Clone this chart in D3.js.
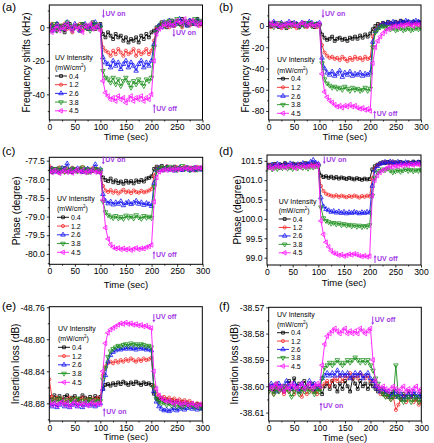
<!DOCTYPE html>
<html>
<head>
<meta charset="utf-8">
<script src="https://cdn.jsdelivr.net/npm/d3@7"></script>
<style>
body { margin: 0; background: #fff; }
text { font-family: "Liberation Sans", Arial, sans-serif; }
</style>
</head>
<body>
<div class="chart"></div>
<script>
// Time axis (sec) and UV intensities
var time = [0,5,10,15,20,25,30,35,40,45,50,55,60,65,70,75,80,85,90,95,100,
  105,110,115,120,125,130,135,140,145,150,155,160,165,170,175,180,185,190,195,200,
  205,210,215,220,225,230,235,240,245,250,255,260,265,270,275,280,285,290,295,300];
var intensity = ["0.4", "1.2", "2.6", "3.8", "4.5"];
var colors = ["#000000", "#f52a2a", "#1414f0", "#1d8f1d", "#ff14ff"];

// (a) frequency shifts, kHz
var freqA04 = [1,-2,0,2,-1,1,-3,0,2,-1,0,1,-2,2,0,-1,1,3,-1,0,2,
  -4,-6,-3,-5,-7,-4,-6,-5,-8,-6,-9,-7,-8,-6,-9,-5,-7,-4,-6,-3,
  -2,0,1,3,2,0,2,4,1,3,2,5,3,1,4,2,3,5,2,3];
var freqA12 = [-1,2,0,-2,1,0,2,-1,0,-3,1,0,2,-2,1,0,-1,2,0,1,-1,
  -12,-14,-15,-17,-14,-16,-13,-15,-17,-14,-16,-15,-13,-17,-14,-16,-15,-13,-16,-14,
  -8,-1,0,2,1,3,0,2,1,4,2,0,3,2,1,4,2,3,1,2];
var freqA26 = [0,1,-2,2,0,-1,1,3,0,-1,2,0,-2,1,2,0,-1,1,3,0,1,
  -18,-21,-22,-24,-20,-23,-21,-25,-22,-20,-24,-21,-23,-26,-22,-20,-24,-21,-23,-20,
  -10,-2,1,0,3,2,4,1,3,2,5,2,3,1,4,3,2,4,3,2];
var freqA38 = [-1,0,2,-2,1,-1,0,3,1,-2,0,1,-1,2,0,1,-2,0,2,1,0,
  -26,-30,-31,-33,-30,-34,-31,-35,-32,-30,-33,-36,-32,-34,-31,-33,-35,-31,-32,-30,
  -12,-3,0,2,1,3,4,2,3,5,2,1,4,3,2,3,5,2,4,3];
var freqA45 = [0,-3,-1,1,-2,0,-1,2,0,-2,1,-1,0,-3,1,0,2,-1,0,1,-2,
  -32,-39,-41,-43,-42,-44,-41,-43,-42,-45,-43,-41,-44,-42,-43,-41,-44,-42,-43,-40,
  -20,-4,-1,0,2,1,3,1,2,4,3,2,5,3,2,4,3,1,3,2];

// (b) frequency shifts, kHz
var freqB04 = [2,0,3,1,-1,2,0,-2,1,3,0,2,-1,1,3,0,2,1,-1,2,1,
  -8,-11,-13,-12,-10,-14,-12,-11,-13,-12,-14,-11,-12,-10,-12,-9,-11,-8,-10,-7,
  -3,0,2,1,3,2,4,3,2,4,3,5,4,3,4,2,4,3,4,3];
var freqB12 = [1,-1,2,0,1,-2,0,2,-1,1,0,-2,1,2,0,-1,2,0,1,-1,1,
  -18,-25,-28,-30,-29,-31,-30,-32,-29,-31,-33,-30,-32,-29,-31,-30,-32,-29,-31,-30,
  -10,-4,-1,1,2,0,2,3,1,2,3,1,2,3,1,2,3,2,1,2];
var freqB26 = [3,1,4,2,0,3,1,2,4,1,3,2,0,3,1,2,4,3,1,2,3,
  -30,-40,-44,-46,-43,-47,-45,-42,-48,-44,-46,-43,-47,-45,-46,-44,-47,-45,-46,-44,
  -15,-5,-2,0,2,1,3,2,4,3,2,4,3,5,4,3,4,5,4,3];
var freqB38 = [0,2,-1,1,3,0,2,-1,1,0,2,1,-1,2,0,1,3,0,2,1,0,
  -35,-50,-54,-56,-58,-57,-59,-58,-60,-57,-59,-61,-58,-60,-59,-61,-60,-58,-61,-59,
  -20,-6,-3,-1,0,-2,-1,-3,-2,-4,-3,-2,-4,-3,-2,-4,-3,-2,-3,-2];
var freqB45 = [1,3,0,2,1,-1,2,0,3,1,2,0,1,3,2,0,1,2,0,1,2,
  -45,-62,-67,-70,-72,-74,-76,-75,-77,-75,-76,-74,-76,-75,-77,-78,-77,-79,-78,-80,
  -35,-20,-14,-10,-7,-5,-3,-2,-1,0,-1,1,0,1,2,1,0,2,1,2];

// (c) phase, degree
var phaseC04 = [-77.74,-77.80,-77.72,-77.78,-77.82,-77.76,-77.70,-77.79,-77.75,-77.81,-77.73,-77.77,-77.71,-77.80,-77.76,-77.82,-77.74,-77.78,-77.72,-77.80,-77.82,
  -77.95,-78.02,-78.05,-77.98,-78.08,-78.03,-78.10,-78.06,-78.12,-78.04,-78.09,-78.05,-78.11,-78.03,-78.07,-78.02,-78.06,-77.98,-77.96,-77.92,
  -77.72,-77.66,-77.70,-77.64,-77.72,-77.68,-77.74,-77.70,-77.66,-77.73,-77.69,-77.75,-77.71,-77.68,-77.74,-77.70,-77.76,-77.72,-77.69,-77.73];
var phaseC12 = [-77.64,-77.70,-77.78,-77.72,-77.68,-77.75,-77.80,-77.71,-77.77,-77.69,-77.74,-77.79,-77.73,-77.67,-77.76,-77.72,-77.78,-77.70,-77.75,-77.73,-77.79,
  -78.18,-78.30,-78.34,-78.29,-78.36,-78.31,-78.38,-78.33,-78.28,-78.35,-78.32,-78.37,-78.30,-78.34,-78.36,-78.31,-78.35,-78.33,-78.30,-78.26,
  -77.90,-77.72,-77.68,-77.74,-77.70,-77.65,-77.72,-77.69,-77.75,-77.68,-77.73,-77.70,-77.66,-77.72,-77.69,-77.74,-77.70,-77.67,-77.73,-77.70];
var phaseC26 = [-77.76,-77.72,-77.80,-77.74,-77.78,-77.70,-77.75,-77.58,-77.79,-77.73,-77.77,-77.71,-77.76,-77.80,-77.74,-77.72,-77.78,-77.75,-77.60,-77.77,-77.73,
  -78.40,-78.58,-78.65,-78.60,-78.68,-78.62,-78.66,-78.59,-78.70,-78.64,-78.61,-78.67,-78.63,-78.58,-78.66,-78.62,-78.69,-78.64,-78.67,-78.72,
  -78.10,-77.75,-77.70,-77.76,-77.72,-77.68,-77.74,-77.71,-77.77,-77.73,-77.69,-77.75,-77.72,-77.70,-77.76,-77.73,-77.69,-77.74,-77.71,-77.75];
var phaseC38 = [-77.74,-77.79,-77.72,-77.77,-77.70,-77.76,-77.80,-77.73,-77.78,-77.71,-77.75,-77.79,-77.74,-77.68,-77.77,-77.73,-77.80,-77.75,-77.72,-77.78,-77.74,
  -78.60,-78.88,-78.96,-79.00,-79.04,-78.98,-79.05,-79.01,-79.06,-78.97,-79.03,-78.99,-79.05,-78.96,-79.02,-79.06,-78.98,-79.03,-79.00,-79.04,
  -78.20,-77.78,-77.72,-77.68,-77.74,-77.70,-77.66,-77.72,-77.69,-77.75,-77.70,-77.64,-77.73,-77.70,-77.76,-77.71,-77.68,-77.74,-77.70,-77.72];
var phaseC45 = [-77.78,-77.82,-77.76,-77.80,-77.84,-77.79,-77.75,-77.81,-77.77,-77.83,-77.78,-77.74,-77.80,-77.76,-77.82,-77.78,-77.80,-77.75,-77.81,-77.79,-77.83,
  -78.55,-79.30,-79.60,-79.75,-79.82,-79.86,-79.84,-79.88,-79.85,-79.89,-79.86,-79.90,-79.87,-79.84,-79.88,-79.85,-79.86,-79.82,-79.80,-79.76,
  -78.60,-77.95,-77.80,-77.76,-77.74,-77.76,-77.72,-77.75,-77.70,-77.74,-77.71,-77.73,-77.69,-77.72,-77.70,-77.74,-77.68,-77.71,-77.69,-77.72];

// (d) phase, degree
var phaseD04 = [101.36,101.40,101.38,101.42,101.37,101.41,101.39,101.44,101.40,101.38,101.43,101.41,101.39,101.42,101.40,101.44,101.41,101.39,101.43,101.41,101.40,
  101.12,101.08,101.10,101.06,101.09,101.05,101.08,101.04,101.07,101.05,101.03,101.06,101.04,101.02,101.05,101.03,101.01,101.04,101.02,101.03,
  101.28,101.36,101.40,101.43,101.46,101.44,101.47,101.45,101.43,101.46,101.44,101.47,101.45,101.43,101.46,101.44,101.48,101.45,101.47,101.46];
var phaseD12 = [101.34,101.38,101.36,101.40,101.35,101.39,101.37,101.41,101.38,101.36,101.40,101.37,101.39,101.42,101.38,101.40,101.37,101.41,101.39,101.42,101.40,
  100.85,100.72,100.65,100.62,100.60,100.58,100.61,100.57,100.60,100.58,100.56,100.59,100.57,100.60,100.58,100.55,100.59,100.57,100.60,100.58,
  101.05,101.30,101.38,101.42,101.45,101.47,101.44,101.46,101.48,101.45,101.43,101.46,101.44,101.42,101.45,101.43,101.41,101.44,101.42,101.43];
var phaseD26 = [101.38,101.35,101.40,101.37,101.42,101.39,101.36,101.41,101.38,101.43,101.40,101.37,101.41,101.39,101.44,101.40,101.42,101.47,101.52,101.45,101.42,
  100.55,100.32,100.25,100.22,100.18,100.20,100.16,100.19,100.15,100.18,100.14,100.17,100.15,100.18,100.16,100.14,100.17,100.15,100.18,100.16,
  100.85,101.25,101.36,101.42,101.44,101.47,101.45,101.48,101.46,101.44,101.47,101.45,101.43,101.46,101.44,101.42,101.45,101.43,101.46,101.44];
var phaseD38 = [101.30,101.34,101.28,101.32,101.29,101.33,101.31,101.35,101.30,101.33,101.29,101.34,101.31,101.36,101.32,101.34,101.30,101.35,101.33,101.36,101.34,
  100.30,100.02,99.95,99.92,99.88,99.90,99.86,99.89,99.84,99.87,99.83,99.85,99.81,99.84,99.80,99.83,99.79,99.82,99.80,99.84,
  100.60,101.05,101.20,101.24,101.28,101.26,101.30,101.25,101.20,101.23,101.26,101.22,101.25,101.28,101.24,101.27,101.23,101.26,101.24,101.27];
var phaseD45 = [101.32,101.35,101.30,101.34,101.37,101.33,101.36,101.32,101.35,101.38,101.34,101.31,101.36,101.33,101.37,101.34,101.36,101.38,101.35,101.37,101.39,
  99.95,99.60,99.40,99.28,99.18,99.12,99.10,99.06,99.08,99.04,99.06,99.09,99.07,99.10,99.08,99.05,99.03,99.05,99.02,99.04,
  100.60,101.00,101.12,101.20,101.25,101.29,101.32,101.35,101.34,101.37,101.36,101.39,101.37,101.40,101.38,101.41,101.39,101.42,101.40,101.41];

// (e) insertion loss, dB
var lossE04 = [-48.872,-48.875,-48.870,-48.874,-48.871,-48.876,-48.872,-48.870,-48.875,-48.873,-48.871,-48.876,-48.874,-48.870,-48.873,-48.875,-48.872,-48.876,-48.871,-48.874,-48.872,
  -48.862,-48.857,-48.856,-48.858,-48.855,-48.857,-48.854,-48.856,-48.853,-48.855,-48.857,-48.854,-48.856,-48.853,-48.855,-48.857,-48.854,-48.856,-48.855,-48.857,
  -48.868,-48.874,-48.876,-48.873,-48.877,-48.875,-48.878,-48.876,-48.879,-48.877,-48.880,-48.878,-48.881,-48.879,-48.882,-48.880,-48.883,-48.881,-48.882,-48.884];
var lossE12 = [-48.850,-48.872,-48.876,-48.873,-48.877,-48.874,-48.878,-48.875,-48.873,-48.877,-48.874,-48.878,-48.876,-48.873,-48.877,-48.875,-48.878,-48.874,-48.876,-48.873,-48.877,
  -48.845,-48.834,-48.830,-48.828,-48.830,-48.827,-48.829,-48.826,-48.828,-48.825,-48.827,-48.824,-48.826,-48.828,-48.825,-48.827,-48.824,-48.826,-48.825,-48.823,
  -48.858,-48.868,-48.871,-48.874,-48.872,-48.875,-48.873,-48.876,-48.874,-48.877,-48.875,-48.878,-48.876,-48.879,-48.877,-48.880,-48.882,-48.880,-48.883,-48.881];
var lossE26 = [-48.880,-48.884,-48.881,-48.885,-48.882,-48.879,-48.884,-48.881,-48.885,-48.882,-48.880,-48.884,-48.881,-48.885,-48.882,-48.880,-48.883,-48.881,-48.884,-48.882,-48.880,
  -48.862,-48.845,-48.828,-48.820,-48.816,-48.814,-48.812,-48.813,-48.811,-48.812,-48.810,-48.812,-48.811,-48.813,-48.810,-48.812,-48.811,-48.813,-48.812,-48.814,
  -48.865,-48.878,-48.884,-48.887,-48.889,-48.888,-48.890,-48.888,-48.886,-48.889,-48.887,-48.885,-48.888,-48.886,-48.884,-48.887,-48.885,-48.888,-48.886,-48.887];
var lossE38 = [-48.876,-48.879,-48.875,-48.878,-48.874,-48.877,-48.880,-48.876,-48.879,-48.875,-48.878,-48.874,-48.877,-48.879,-48.876,-48.878,-48.875,-48.879,-48.876,-48.878,-48.877,
  -48.850,-48.836,-48.822,-48.815,-48.812,-48.810,-48.808,-48.809,-48.807,-48.806,-48.808,-48.805,-48.807,-48.806,-48.808,-48.806,-48.807,-48.809,-48.808,-48.810,
  -48.860,-48.874,-48.878,-48.880,-48.879,-48.882,-48.880,-48.883,-48.881,-48.884,-48.882,-48.885,-48.883,-48.881,-48.884,-48.882,-48.885,-48.883,-48.886,-48.884];
var lossE45 = [-48.878,-48.882,-48.879,-48.883,-48.880,-48.878,-48.882,-48.879,-48.884,-48.881,-48.878,-48.883,-48.880,-48.882,-48.879,-48.883,-48.881,-48.878,-48.882,-48.880,-48.881,
  -48.840,-48.805,-48.792,-48.788,-48.786,-48.784,-48.782,-48.780,-48.781,-48.779,-48.781,-48.780,-48.782,-48.781,-48.783,-48.782,-48.784,-48.783,-48.785,-48.786,
  -48.840,-48.862,-48.870,-48.874,-48.876,-48.878,-48.877,-48.879,-48.881,-48.878,-48.880,-48.882,-48.879,-48.881,-48.883,-48.880,-48.882,-48.884,-48.881,-48.883];

// (f) insertion loss, dB
var lossF04 = [-38.601,-38.600,-38.602,-38.599,-38.601,-38.600,-38.602,-38.600,-38.598,-38.601,-38.597,-38.600,-38.599,-38.601,-38.598,-38.600,-38.601,-38.599,-38.602,-38.600,-38.601,
  -38.603,-38.600,-38.599,-38.601,-38.598,-38.600,-38.602,-38.599,-38.601,-38.598,-38.600,-38.602,-38.597,-38.599,-38.601,-38.598,-38.600,-38.599,-38.601,-38.599,
  -38.600,-38.601,-38.602,-38.601,-38.603,-38.602,-38.604,-38.603,-38.602,-38.604,-38.603,-38.605,-38.603,-38.604,-38.602,-38.604,-38.603,-38.605,-38.604,-38.603];
var lossF12 = [-38.602,-38.601,-38.603,-38.600,-38.602,-38.601,-38.603,-38.601,-38.602,-38.600,-38.603,-38.601,-38.602,-38.604,-38.601,-38.603,-38.601,-38.602,-38.600,-38.603,-38.601,
  -38.600,-38.599,-38.598,-38.600,-38.598,-38.597,-38.598,-38.596,-38.598,-38.596,-38.597,-38.595,-38.597,-38.596,-38.597,-38.595,-38.596,-38.597,-38.596,-38.598,
  -38.598,-38.600,-38.601,-38.603,-38.602,-38.604,-38.603,-38.605,-38.604,-38.609,-38.607,-38.605,-38.604,-38.606,-38.605,-38.604,-38.606,-38.605,-38.607,-38.606];
var lossF26 = [-38.601,-38.599,-38.600,-38.602,-38.599,-38.601,-38.600,-38.598,-38.600,-38.601,-38.599,-38.600,-38.602,-38.599,-38.601,-38.600,-38.598,-38.600,-38.599,-38.601,-38.600,
  -38.597,-38.596,-38.595,-38.596,-38.595,-38.596,-38.594,-38.596,-38.595,-38.596,-38.595,-38.597,-38.596,-38.595,-38.596,-38.595,-38.597,-38.596,-38.595,-38.597,
  -38.598,-38.600,-38.601,-38.602,-38.601,-38.603,-38.602,-38.604,-38.603,-38.602,-38.604,-38.603,-38.605,-38.604,-38.603,-38.604,-38.602,-38.604,-38.603,-38.605];
var lossF38 = [-38.602,-38.601,-38.603,-38.601,-38.602,-38.601,-38.600,-38.601,-38.602,-38.604,-38.602,-38.601,-38.603,-38.601,-38.602,-38.600,-38.602,-38.601,-38.603,-38.601,-38.602,
  -38.597,-38.593,-38.592,-38.591,-38.592,-38.591,-38.590,-38.591,-38.592,-38.591,-38.590,-38.591,-38.590,-38.589,-38.590,-38.591,-38.590,-38.591,-38.590,-38.592,
  -38.594,-38.597,-38.599,-38.601,-38.603,-38.604,-38.603,-38.605,-38.604,-38.592,-38.604,-38.605,-38.606,-38.605,-38.604,-38.606,-38.605,-38.604,-38.606,-38.605];
var lossF45 = [-38.600,-38.601,-38.600,-38.599,-38.601,-38.600,-38.602,-38.600,-38.601,-38.599,-38.600,-38.601,-38.600,-38.599,-38.601,-38.600,-38.599,-38.601,-38.600,-38.599,-38.600,
  -38.592,-38.584,-38.581,-38.580,-38.579,-38.578,-38.579,-38.580,-38.579,-38.578,-38.580,-38.579,-38.580,-38.579,-38.580,-38.578,-38.579,-38.580,-38.579,-38.578,
  -38.590,-38.598,-38.600,-38.601,-38.600,-38.601,-38.602,-38.601,-38.600,-38.601,-38.602,-38.601,-38.600,-38.602,-38.601,-38.602,-38.601,-38.600,-38.602,-38.601];

var xTicks = [0, 50, 100, 150, 200, 250, 300];
var xMinor = [25, 75, 125, 175, 225, 275];

// Panel layout
var panels = [
  { label: "(a)", left: 49.3, right: 202.5, top: 5, bottom: 120, yDomain: [-55.3, 13.3],
    yTicks: [0, -20, -40], yMinor: [10, -10, -30, -50], fmt: d3.format("d"),
    yTitle: "Frequency shifts (kHz)", yTitleX: 26, xTitleY: 136.5, labelX: 2, labelY: 11,
    series: [freqA04, freqA12, freqA26, freqA38, freqA45],
    legend: { x: 55, title: 57.3, unit: 67.3, row: 76, step: 8.7 },
    notes: [{ t: 106, y0: 9.5, y1: 18, ty: 15.5, text: "UV on" },
            { t: 244, y0: 29, y1: 37, ty: 35, text: "UV on" },
            { t: 205.6, y0: 113, y1: 104, ty: 110.5, text: "UV off" }] },
  { label: "(b)", left: 268.7, right: 421, top: 5, bottom: 120, yDomain: [-88.5, 19.8],
    yTicks: [0, -20, -40, -60, -80], yMinor: [10, -10, -30, -50, -70], fmt: d3.format("d"),
    yTitle: "Frequency shifts (kHz)", yTitleX: 245, xTitleY: 137, labelX: 219, labelY: 11,
    series: [freqB04, freqB12, freqB26, freqB38, freqB45],
    legend: { x: 277, title: 59.3, unit: 70.3, row: 78.7, step: 8.65 },
    notes: [{ t: 107, y0: 9.5, y1: 18, ty: 15.5, text: "UV on" },
            { t: 208.8, y0: 118.5, y1: 110.5, ty: 116, text: "UV off" }] },
  { label: "(c)", left: 49.3, right: 202.7, top: 157.3, bottom: 264.3, yDomain: [-80.28, -77.41],
    yTicks: [-77.5, -78.0, -78.5, -79.0, -79.5, -80.0], yMinor: [-77.75, -78.25, -78.75, -79.25, -79.75, -80.25], fmt: d3.format(".1f"),
    yTitle: "Phase (degree)", yTitleX: 16, xTitleY: 285, labelX: 2, labelY: 155,
    series: [phaseC04, phaseC12, phaseC26, phaseC38, phaseC45],
    legend: { x: 57, title: 198.3, unit: 208.3, row: 217.3, step: 8.75 },
    notes: [{ t: 105.6, y0: 156.5, y1: 164.5, ty: 162, text: "UV on" },
            { t: 204.7, y0: 259, y1: 251, ty: 256.5, text: "UV off" }] },
  { label: "(d)", left: 267, right: 421, top: 155, bottom: 265, yDomain: [98.81, 101.65],
    yTicks: [99.0, 99.5, 100.0, 100.5, 101.0, 101.5], yMinor: [99.25, 99.75, 100.25, 100.75, 101.25], fmt: d3.format(".1f"),
    yTitle: "Phase (degree)", yTitleX: 237, xTitleY: 283, labelX: 219, labelY: 155,
    series: [phaseD04, phaseD12, phaseD26, phaseD38, phaseD45],
    legend: { x: 278.7, title: 201, unit: 210.3, row: 219, step: 8.45 },
    notes: [{ t: 111.6, y0: 156.5, y1: 164, ty: 161.5, text: "UV on" },
            { t: 210.4, y0: 263, y1: 255, ty: 260.5, text: "UV off" }] },
  { label: "(e)", left: 49.3, right: 202.3, top: 306.7, bottom: 421, yDomain: [-48.9021, -48.7593],
    yTicks: [-48.76, -48.80, -48.84, -48.88], yMinor: [-48.78, -48.82, -48.86, -48.90], fmt: d3.format(".2f"),
    yTitle: "Insertion loss (dB)", yTitleX: 15, xTitleY: 437, labelX: 2, labelY: 309.5,
    series: [lossE04, lossE12, lossE26, lossE38, lossE45],
    legend: { x: 58, title: 328.3, unit: 338.3, row: 347.3, step: 8.75 },
    notes: [{ t: 107.7, y0: 416.5, y1: 408, ty: 414, text: "UV on" },
            { t: 205, y0: 314, y1: 322.5, ty: 319, text: "UV off" }] },
  { label: "(f)", left: 268.7, right: 421.3, top: 307.3, bottom: 421, yDomain: [-38.6132, -38.57],
    yTicks: [-38.57, -38.58, -38.59, -38.60, -38.61], yMinor: [-38.575, -38.585, -38.595, -38.605], fmt: d3.format(".2f"),
    yTitle: "Insertion loss (dB)", yTitleX: 234, xTitleY: 437.5, labelX: 219, labelY: 310,
    series: [lossF04, lossF12, lossF26, lossF38, lossF45],
    legend: { x: 277, title: 314.3, unit: 324, row: 332.7, step: 8.35 },
    notes: [{ t: 102.8, y0: 410.5, y1: 402.5, ty: 408, text: "UV on" },
            { t: 204.5, y0: 316.5, y1: 325, ty: 321.5, text: "UV off" }] }
];

var noteColor = "#a13ae6";
var font = "Liberation Sans, Arial, sans-serif";

// open markers: square, circle, up / down / left triangle
var markers = [
  { type: d3.symbolSquare, size: 8, rot: 0 },
  { type: d3.symbolCircle, size: 8, rot: 0 },
  { type: d3.symbolTriangle, size: 9, rot: 0 },
  { type: d3.symbolTriangle, size: 9, rot: 180 },
  { type: d3.symbolTriangle, size: 9, rot: -90 }
];

var svg = d3.select(".chart")
    .append("svg")
    .attr("width", 434)
    .attr("height", 443)
    .style("background", "#fff");

function minus(s) { return s.replace("\u2212", "-"); }

function styleAxis(g) {
    g.select(".domain").remove();
    g.selectAll("line").attr("stroke", "#000").attr("stroke-width", 0.8);
    g.selectAll("text").attr("font-family", font).attr("font-size", 8.6).attr("fill", "#000");
}

function drawMarker(g, m, cx, cy, color) {
    g.append("path")
        .attr("d", d3.symbol().type(m.type).size(m.size)())
        .attr("transform", `translate(${cx},${cy}) rotate(${m.rot})`)
        .attr("fill", "none")
        .attr("stroke", color)
        .attr("stroke-width", 0.8);
}

panels.forEach(function(p, pi) {
    var x = d3.scaleLinear().domain([0, 300]).range([p.left, p.right]);
    var y = d3.scaleLinear().domain(p.yDomain).range([p.bottom, p.top]);
    var g = svg.append("g");

    svg.append("clipPath").attr("id", "clip" + pi)
        .append("rect")
        .attr("x", p.left).attr("y", p.top)
        .attr("width", p.right - p.left).attr("height", p.bottom - p.top);

    // axes
    g.append("g").attr("transform", `translate(0,${p.bottom})`)
        .call(d3.axisBottom(x).tickValues(xTicks).tickSize(2.5).tickPadding(1))
        .call(styleAxis);
    g.append("g").attr("transform", `translate(0,${p.bottom})`)
        .call(d3.axisBottom(x).tickValues(xMinor).tickSize(1.5).tickFormat(""))
        .call(styleAxis);
    g.append("g").attr("transform", `translate(${p.left},0)`)
        .call(d3.axisLeft(y).tickValues(p.yTicks).tickSize(2.5).tickPadding(2)
            .tickFormat(function(d) { return minus(p.fmt(d)); }))
        .call(styleAxis);
    g.append("g").attr("transform", `translate(${p.left},0)`)
        .call(d3.axisLeft(y).tickValues(p.yMinor.filter(function(v) {
                return v >= p.yDomain[0] && v <= p.yDomain[1]; }))
            .tickSize(1.5).tickFormat(""))
        .call(styleAxis);

    // series
    var plot = g.append("g").attr("clip-path", "url(#clip" + pi + ")");
    var line = d3.line()
        .x(function(d, i) { return x(time[i]); })
        .y(function(d) { return y(d); });

    p.series.forEach(function(vals, si) {
        plot.append("path")
            .datum(vals)
            .attr("d", line)
            .attr("fill", "none")
            .attr("stroke", colors[si])
            .attr("stroke-width", 0.9);
        vals.forEach(function(v, i) {
            drawMarker(plot, markers[si], x(time[i]), y(v), colors[si]);
        });
    });

    // frame
    g.append("rect")
        .attr("x", p.left).attr("y", p.top)
        .attr("width", p.right - p.left).attr("height", p.bottom - p.top)
        .attr("fill", "none").attr("stroke", "#000").attr("stroke-width", 1);

    // titles
    g.append("text")
        .attr("x", (p.left + p.right) / 2).attr("y", p.xTitleY + 3.2)
        .attr("text-anchor", "middle").attr("font-size", 9.5)
        .text("Time (sec)");
    g.append("text")
        .attr("transform", `translate(${p.yTitleX + 3.5},${(p.top + p.bottom) / 2}) rotate(-90)`)
        .attr("text-anchor", "middle").attr("font-size", 10)
        .text(p.yTitle);
    g.append("text")
        .attr("x", p.labelX).attr("y", p.labelY)
        .attr("font-size", 11.5)
        .text(p.label);

    // legend
    var L = p.legend;
    g.append("text").attr("x", L.x).attr("y", L.title + 2.5)
        .attr("font-size", 7).text("UV Intensity");
    var u = g.append("text").attr("x", L.x).attr("y", L.unit + 2.5).attr("font-size", 7);
    u.append("tspan").text("(mW/cm");
    u.append("tspan").attr("dy", -2.5).attr("font-size", 4.5).text("2");
    u.append("tspan").attr("dy", 2.5).text(")");
    intensity.forEach(function(name, si) {
        var ry = L.row + si * L.step;
        g.append("line")
            .attr("x1", L.x).attr("x2", L.x + 12)
            .attr("y1", ry).attr("y2", ry)
            .attr("stroke", colors[si]).attr("stroke-width", 0.9);
        drawMarker(g, markers[si], L.x + 6, ry, colors[si]);
        g.append("text").attr("x", L.x + 14).attr("y", ry + 2.5)
            .attr("font-size", 7).text(name);
    });

    // UV on / off notes
    p.notes.forEach(function(n) {
        var ax = x(n.t);
        var dir = n.y1 > n.y0 ? 1 : -1;
        g.append("line")
            .attr("x1", ax).attr("x2", ax)
            .attr("y1", n.y0).attr("y2", n.y1 - dir * 2)
            .attr("stroke", noteColor).attr("stroke-width", 1);
        g.append("path")
            .attr("d", `M${ax - 1.5},${n.y1 - dir * 2.5}L${ax + 1.5},${n.y1 - dir * 2.5}L${ax},${n.y1}Z`)
            .attr("fill", noteColor);
        g.append("text")
            .attr("x", ax + 2).attr("y", n.ty)
            .attr("font-size", 7).attr("font-weight", "bold")
            .attr("fill", noteColor)
            .text(n.text);
    });
});
</script>
</body>
</html>
